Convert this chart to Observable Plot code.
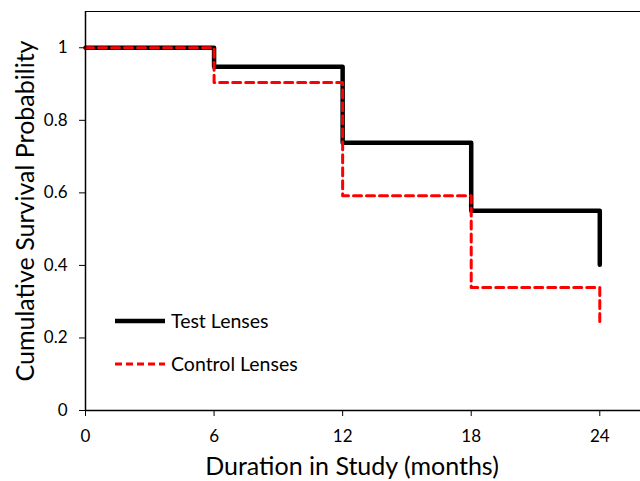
<!DOCTYPE html>
<html>
<head>
<meta charset="utf-8">
<script src="https://cdn.jsdelivr.net/npm/d3@7"></script>
<script src="https://cdn.jsdelivr.net/npm/@observablehq/plot@0.6"></script>
<style>
  body { margin: 0; background: #fff; }
  #wrap { position: relative; width: 640px; height: 481px; font-family: Lato, "Open Sans", sans-serif; }
  .leg { position: absolute; display: flex; align-items: center; font-size: 19.5px; color: #000; }
  .leg svg { margin-right: 5px; }
</style>
</head>
<body>
<div id="wrap"></div>
<script>
const months = [0, 6, 12, 18, 24];
const testSurvival = [1, 0.948, 0.738, 0.551, 0.402];
const controlSurvival = [1, 0.904, 0.592, 0.339, 0.234];
const seriesNames = ["Test Lenses", "Control Lenses"];
const xTicks = [0, 6, 12, 18, 24];
const yTicks = [0, 0.2, 0.4, 0.6, 0.8, 1];
const yTickLabels = ["0", "0.2", "0.4", "0.6", "0.8", "1"];
const xTitle = "Duration in Study (months)";
const yTitle = "Cumulative Survival Probability";

// step data: a final vertical drop at 24 months
function stepRows(vals) {
  const rows = [];
  for (let i = 0; i < months.length; i++) {
    if (i > 0) rows.push({x: months[i], y: vals[i - 1]});
    rows.push({x: months[i], y: vals[i]});
  }
  return rows;
}
const testRows = stepRows(testSurvival);
const controlRows = stepRows(controlSurvival);
const yTickRows = yTicks.map((v, i) => ({v, label: yTickLabels[i]}));

const plot = Plot.plot({
  width: 640,
  height: 481,
  marginLeft: 85,
  marginTop: 11,
  marginBottom: 71,
  marginRight: 0,
  style: {fontFamily: "Lato, 'Open Sans', sans-serif", background: "#fff", overflow: "visible"},
  x: {domain: [0, 25.9]},
  y: {domain: [0, 1.1]},
  marks: [
    Plot.ruleY([1.1], {stroke: "#000", strokeWidth: 1}),
    Plot.line(testRows, {x: "x", y: "y", stroke: "#000", strokeWidth: 4.5}),
    Plot.line(controlRows, {x: "x", y: "y", stroke: "#ff0000", strokeWidth: 3, strokeDasharray: "8,5"}),
    Plot.axisX({ticks: xTicks, tickSize: 6, tickFormat: () => "", label: null, stroke: "#000"}),
    Plot.axisY({ticks: yTicks, tickSize: 6, tickFormat: () => "", label: null, stroke: "#000"}),
    Plot.text(xTicks, {x: d => d, frameAnchor: "bottom", lineAnchor: "middle", textAnchor: "middle", dy: 26, fontSize: 17, fill: "#000"}),
    Plot.text(yTickRows, {y: "v", text: "label", frameAnchor: "left", lineAnchor: "middle", textAnchor: "end", dx: -18, fontSize: 17, fill: "#000"}),
    Plot.ruleX([0], {stroke: "#000", strokeWidth: 1.5}),
    Plot.ruleY([0], {stroke: "#000", strokeWidth: 1.5}),
    Plot.text([xTitle], {frameAnchor: "bottom", lineAnchor: "middle", textAnchor: "middle", dx: -11, dy: 56, fontSize: 25, fill: "#000"}),
    Plot.text([yTitle], {frameAnchor: "left", lineAnchor: "middle", textAnchor: "middle", rotate: -90, dx: -60, fontSize: 25, fill: "#000"})
  ]
});
const wrap = document.getElementById("wrap");
wrap.appendChild(plot);

const legendItems = [
  {name: seriesNames[0], stroke: "#000", width: 4.5, dash: null, top: 309},
  {name: seriesNames[1], stroke: "#ff0000", width: 3, dash: "7,4", top: 352}
];
for (const it of legendItems) {
  const div = document.createElement("div");
  div.className = "leg";
  div.style.left = "114px";
  div.style.top = it.top + "px";
  div.innerHTML = `<svg width="52" height="22"><line x1="1" x2="51" y1="11" y2="11" stroke="${it.stroke}" stroke-width="${it.width}" ${it.dash ? `stroke-dasharray="${it.dash}"` : ""}/></svg><span>${it.name}</span>`;
  wrap.appendChild(div);
}
</script>
</body>
</html>
